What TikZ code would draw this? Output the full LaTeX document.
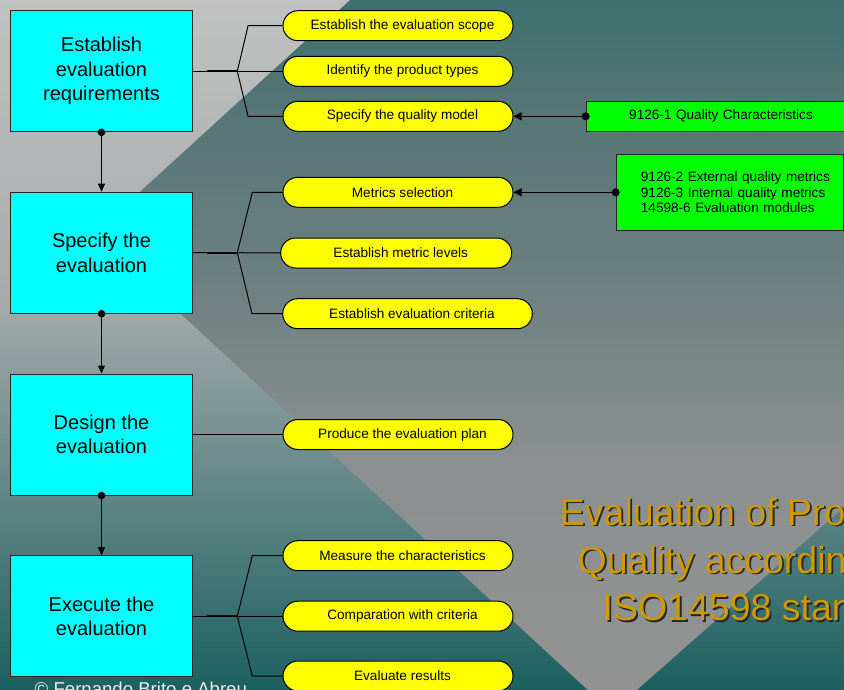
\documentclass[tikz,border=0pt]{standalone}
\usepackage{fontspec}
\setmainfont{Liberation Sans}
\usetikzlibrary{arrows.meta,shapes.misc}

\definecolor{boxcyan}{HTML}{00FFFF}
\definecolor{pillyellow}{HTML}{FFFF00}
\definecolor{stdgreen}{HTML}{00FF00}
\definecolor{gold}{HTML}{CC9900}
% slide background: outer vertical blend
\definecolor{bgA}{RGB}{193,193,193}
\definecolor{bgB}{RGB}{165,171,171}
\definecolor{bgC}{RGB}{28,96,96}
% slide background: inner rotated square blend
\definecolor{dmA}{RGB}{60,111,110}
\definecolor{dmB}{RGB}{84,117,117}
\definecolor{dmC}{RGB}{112,129,129}
\definecolor{dmD}{RGB}{140,144,144}
\definecolor{dmE}{RGB}{146,146,146}

% gold heading text with a dark drop shadow behind it
\newcommand{\dropshadowtext}[1]{%
  \rlap{\hspace*{1.8pt}\raisebox{-1.8pt}{\textcolor{black!85}{#1}}}#1}

\tikzset{
  stage/.style={draw=black!85, line width=1, fill=boxcyan, minimum width=181.6,
    minimum height=121, inner sep=0, align=center,
    font=\fontsize{20}{24.5}\selectfont},
  task/.style={rounded rectangle, draw=black, line width=1, fill=pillyellow,
    minimum height=30, minimum width=230, inner sep=0,
    font=\fontsize{13.6}{15.7}\selectfont, execute at begin node=\hspace*{9pt}},
  stdref/.style={draw=black!85, line width=1, fill=stdgreen, inner ysep=0,
    anchor=west, align=left, font=\fontsize{13.6}{15.7}\selectfont},
  link/.style={line width=1, draw=black},
  trunk/.style={line width=1.8, draw=black},
  flow/.style={link, -{Triangle[length=8,width=7]}},
  feed/.style={link, -{Triangle[length=8,width=8]}},
  headline/.style={anchor=base west, inner sep=0, text=gold,
    font=\fontsize{37.5}{45}\selectfont},
}

\begin{document}
\begin{tikzpicture}[x=1pt,y=-1pt]
\useasboundingbox (0,0) rectangle (844,689);
\clip (0,0) rectangle (844,689);

% ---- background -------------------------------------------------------
\shade[top color=bgA, bottom color=bgB] (0,-1) rectangle (844,300.5);
\shade[top color=bgB, bottom color=bgC] (0,300) rectangle (844,690);
\begin{scope}
  \clip (94.1,233.7) -- (404.8,-50) -- (1000,-50) -- (1000,369.2)
        -- (611.8,712.1) -- cycle;
  \shade[top color=dmA, bottom color=dmB] (0,-1) rectangle (844,100.5);
  \shade[top color=dmB, bottom color=dmC] (0,100) rectangle (844,300.5);
  \shade[top color=dmC, bottom color=dmD] (0,300) rectangle (844,460.5);
  \shade[top color=dmD, bottom color=dmE] (0,460) rectangle (844,690);
\end{scope}

% ---- title ------------------------------------------------------------
\node[headline] (t1) at (559.7,525)   {\dropshadowtext{Evaluation of Product}};
\node[headline] (t2) at (577.5,573)   {\dropshadowtext{Quality according to}};
\node[headline] (t3) at (602.4,620.5) {\dropshadowtext{ISO14598 standard}};

\node[anchor=base west, inner sep=0, text=white!92!black,
      font=\fontsize{18.6}{20}\selectfont] (credit) at (34.5,695)
      {© Fernando Brito e Abreu};

% ---- process stages ---------------------------------------------------
\node[stage] (b1) at (101.5,71.3)  {Establish\\evaluation\\requirements};
\node[stage] (b2) at (101.5,252.7) {Specify the\\evaluation};
\node[stage] (b3) at (101.5,434.5) {Design the\\evaluation};
\node[stage] (b4) at (101.5,616.2) {Execute the\\evaluation};

% ---- activities -------------------------------------------------------
\node[task] (p11) at (398,25.7)  {Establish the evaluation scope};
\node[task] (p12) at (398,71.3)  {Identify the product types};
\node[task] (p13) at (398,116.3) {Specify the quality model};
\node[task] (p21) at (398,192.3) {Metrics selection};
\node[task, minimum width=231] (p22) at (396.2,253) {Establish metric levels};
\node[task, minimum width=249.6] (p23) at (407.5,313.7) {Establish evaluation criteria};
\node[task] (p31) at (398,434.5) {Produce the evaluation plan};
\node[task] (p41) at (398,555.7) {Measure the characteristics};
\node[task] (p42) at (398,616.2) {Comparation with criteria};
\node[task] (p43) at (398,676)   {Evaluate results};

% ---- standards --------------------------------------------------------
\node[stdref, minimum height=30, text width=194, inner xsep=43] (g1)
  at (585.7,116.3) {9126-1 Quality Characteristics};
\node[stdref, minimum height=75.7, text width=177.6, inner xsep=24.7] (g2)
  at (615.7,192.3) {\mbox{9126-2 External quality metrics}\\
                    \mbox{9126-3 Internal quality metrics}\\
                    \mbox{14598-6 Evaluation modules}};

% ---- branching connectors ---------------------------------------------
\coordinate (j1) at (237.3,71.3);
\coordinate (j2) at (237.3,252.7);
\coordinate (j4) at (237.3,616.2);

\draw[link] (b1.east) -- (j1) -- (p12.west);
\draw[trunk] ([xshift=14]b1.east) -- (j1);
\draw[link] (j1) -- ([xshift=-34.4]p11.west) -- (p11.west);
\draw[link] (j1) -- ([xshift=-34.4]p13.west) -- (p13.west);

\draw[link] (b2.east) -- (j2) -- (p22.west);
\draw[trunk] ([xshift=14]b2.east) -- (j2);
\draw[link] (j2) -- ([xshift=-30.2]p21.west) -- (p21.west);
\draw[link] (j2) -- ([xshift=-30.2]p23.west) -- (p23.west);

\draw[link] (b3.east) -- (p31.west);
\draw[trunk] ([xshift=14]b3.east) -- (p31.west);

\draw[link] (b4.east) -- (j4) -- (p42.west);
\draw[trunk] ([xshift=14]b4.east) -- (j4);
\draw[link] (j4) -- ([xshift=-30.2]p41.west) -- (p41.west);
\draw[link] (j4) -- ([xshift=-30.2]p43.west) -- (p43.west);

% ---- stage sequence ---------------------------------------------------
\draw[flow] (b1.south) -- (b2.north);
\draw[flow] (b2.south) -- (b3.north);
\draw[flow] (b3.south) -- (b4.north);
\fill (b1.south) circle (3.8);
\fill (b2.south) circle (3.8);
\fill (b3.south) circle (3.8);

% ---- standards feeding activities -------------------------------------
\draw[feed] (g1.west) -- (p13.east);
\draw[feed] (g2.west) -- (p21.east);
\fill (g1.west) circle (4);
\fill (g2.west) circle (4);
\end{tikzpicture}
\end{document}
